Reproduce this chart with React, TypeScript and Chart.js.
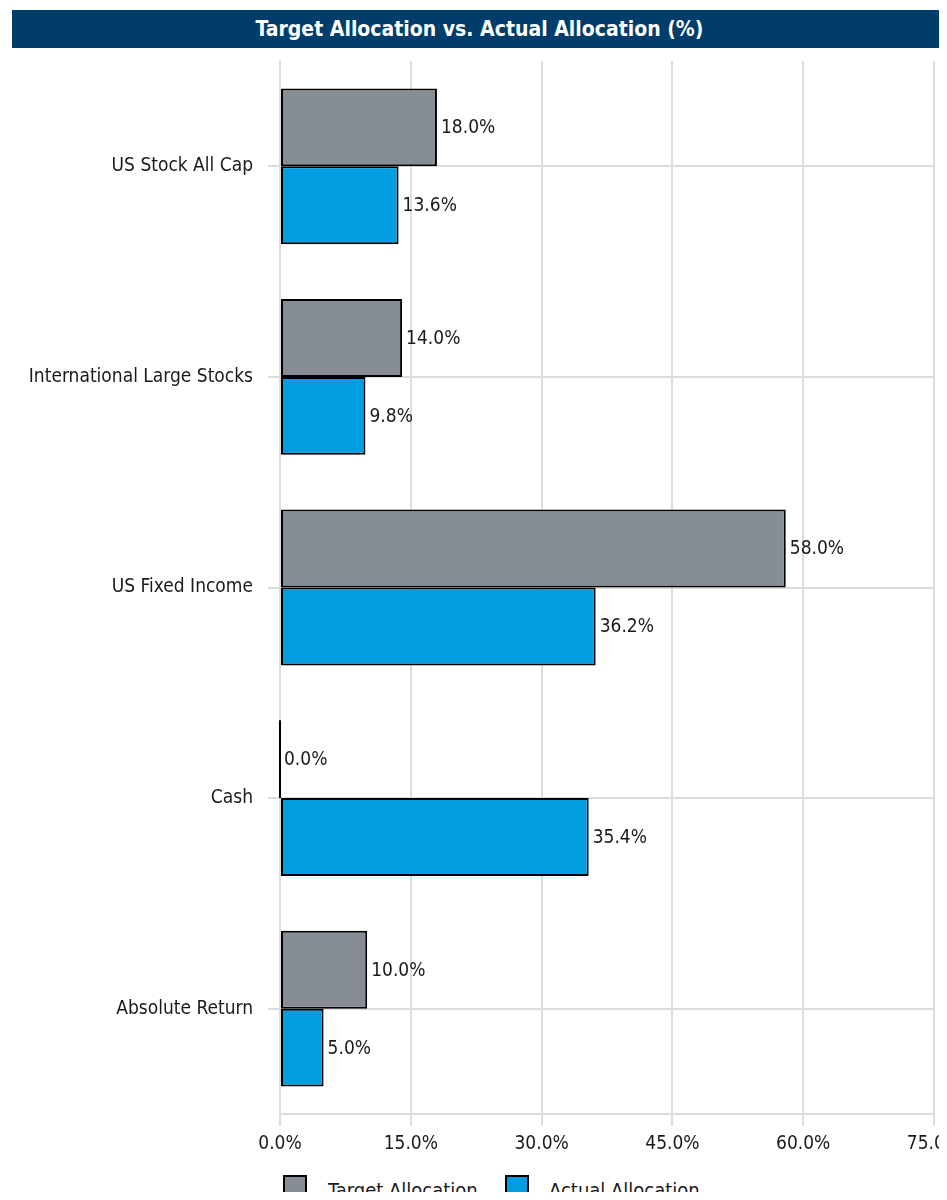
import React, { useEffect, useRef } from "react";
import { Chart, registerables } from "chart.js";

Chart.register(...registerables);

const categories = [
  "US Stock All Cap",
  "International Large Stocks",
  "US Fixed Income",
  "Cash",
  "Absolute Return",
];
const targetValues = [18.0, 14.0, 58.0, 0.0, 10.0];
const actualValues = [13.6, 9.8, 36.2, 35.4, 5.0];
const seriesNames = ["Target Allocation", "Actual Allocation"];
const seriesColors = ["#878d95", "#009ee0"];
const xMin = 0;
const xMax = 75;
const xStep = 15;
const titleText = "Target Allocation vs. Actual Allocation (%)";

const FONT = "'Liberation Sans Narrow', 'Arial Narrow', 'DejaVu Sans Condensed', sans-serif";
const FS = 19;

const valueLabelPlugin = {
  id: "valueLabels",
  afterDatasetsDraw(chart: any) {
    const ctx = chart.ctx;
    ctx.save();
    ctx.font = `${FS}px ${FONT}`;
    ctx.fillStyle = "#1a1a1a";
    ctx.textAlign = "left";
    ctx.textBaseline = "middle";
    chart.data.datasets.forEach((ds: any, di: number) => {
      const meta = chart.getDatasetMeta(di);
      meta.data.forEach((bar: any, i: number) => {
        const v = ds.data[i];
        const props = bar.getProps(["x", "y", "base", "height"], true);
        if (v === 0) {
          ctx.save();
          ctx.strokeStyle = "#000";
          ctx.lineWidth = 2;
          ctx.beginPath();
          ctx.moveTo(props.base, props.y - props.height / 2);
          ctx.lineTo(props.base, props.y + props.height / 2);
          ctx.stroke();
          ctx.restore();
        }
        ctx.fillText(v.toFixed(1) + "%", props.x + 4, props.y + 1);
      });
    });
    ctx.restore();
  },
};

export default function App() {
  const canvasRef = useRef<HTMLCanvasElement | null>(null);

  useEffect(() => {
    if (!canvasRef.current) return;
    const chart = new Chart(canvasRef.current, {
      type: "bar",
      data: {
        labels: categories,
        datasets: [
          {
            label: seriesNames[0],
            data: targetValues,
            backgroundColor: seriesColors[0],
            borderColor: "#000",
            borderWidth: 2,
            borderSkipped: false,
            categoryPercentage: 0.74,
            barPercentage: 1.0,
          },
          {
            label: seriesNames[1],
            data: actualValues,
            backgroundColor: seriesColors[1],
            borderColor: "#000",
            borderWidth: 2,
            borderSkipped: false,
            categoryPercentage: 0.74,
            barPercentage: 1.0,
          },
        ],
      },
      options: {
        indexAxis: "y",
        responsive: false,
        animation: false,
        layout: { padding: { top: 53, right: 21, bottom: 0, left: 0 } },
        plugins: {
          legend: { display: false },
          title: { display: false },
          tooltip: { enabled: false },
        },
        scales: {
          x: {
            type: "linear",
            min: xMin,
            max: xMax,
            ticks: {
              stepSize: xStep,
              padding: 7,
              color: "#1a1a1a",
              font: { family: FONT, size: FS },
              callback: (v: any) => Number(v).toFixed(1) + "%",
              maxRotation: 0,
            },
            grid: { color: "#dcdcdc", lineWidth: 2, tickLength: 12 },
            border: { color: "#dcdcdc", width: 2 },
            afterFit: (scale: any) => {
              scale.height = 54;
              scale.paddingLeft = 0;
              scale.paddingRight = 0;
            },
          },
          y: {
            type: "category",
            offset: true,
            ticks: {
              padding: 15,
              color: "#1a1a1a",
              font: { family: FONT, size: FS },
            },
            grid: { color: "#dcdcdc", lineWidth: 2, tickLength: 12, offset: false },
            border: { color: "#dcdcdc", width: 2 },
            afterFit: (scale: any) => {
              scale.width = 272;
            },
          },
        },
      },
      plugins: [valueLabelPlugin],
    });
    return () => chart.destroy();
  }, []);

  const legendItem = (i: number, left: number, textLeft: number) => (
    <React.Fragment key={i}>
      <div
        style={{
          position: "absolute",
          left,
          top: 1167,
          width: 20,
          height: 26,
          background: seriesColors[i],
          border: "2px solid #000",
        }}
      />
      <div
        style={{
          position: "absolute",
          left: textLeft,
          top: 1167,
          fontFamily: FONT,
          fontSize: FS + 1,
          lineHeight: "30px",
          color: "#1a1a1a",
          whiteSpace: "nowrap",
        }}
      >
        {seriesNames[i]}
      </div>
    </React.Fragment>
  );

  return (
    <div
      style={{
        position: "relative",
        width: 939,
        height: 1192,
        marginBottom: -8,
        overflow: "hidden",
      }}
    >
      <canvas
        ref={canvasRef}
        width={947}
        height={1160}
        style={{ position: "absolute", left: 0, top: 0, width: 947, height: 1160 }}
      />
      <div
        style={{
          position: "absolute",
          left: 4,
          top: 2,
          width: 935,
          height: 38,
          background: "#003d6b",
          color: "#fff",
          fontFamily: FONT,
          fontWeight: "bold",
          fontSize: 21,
          lineHeight: "38px",
          textAlign: "center",
        }}
      >
        {titleText}
      </div>
      {legendItem(0, 275, 320)}
      {legendItem(1, 497, 541)}
    </div>
  );
}
